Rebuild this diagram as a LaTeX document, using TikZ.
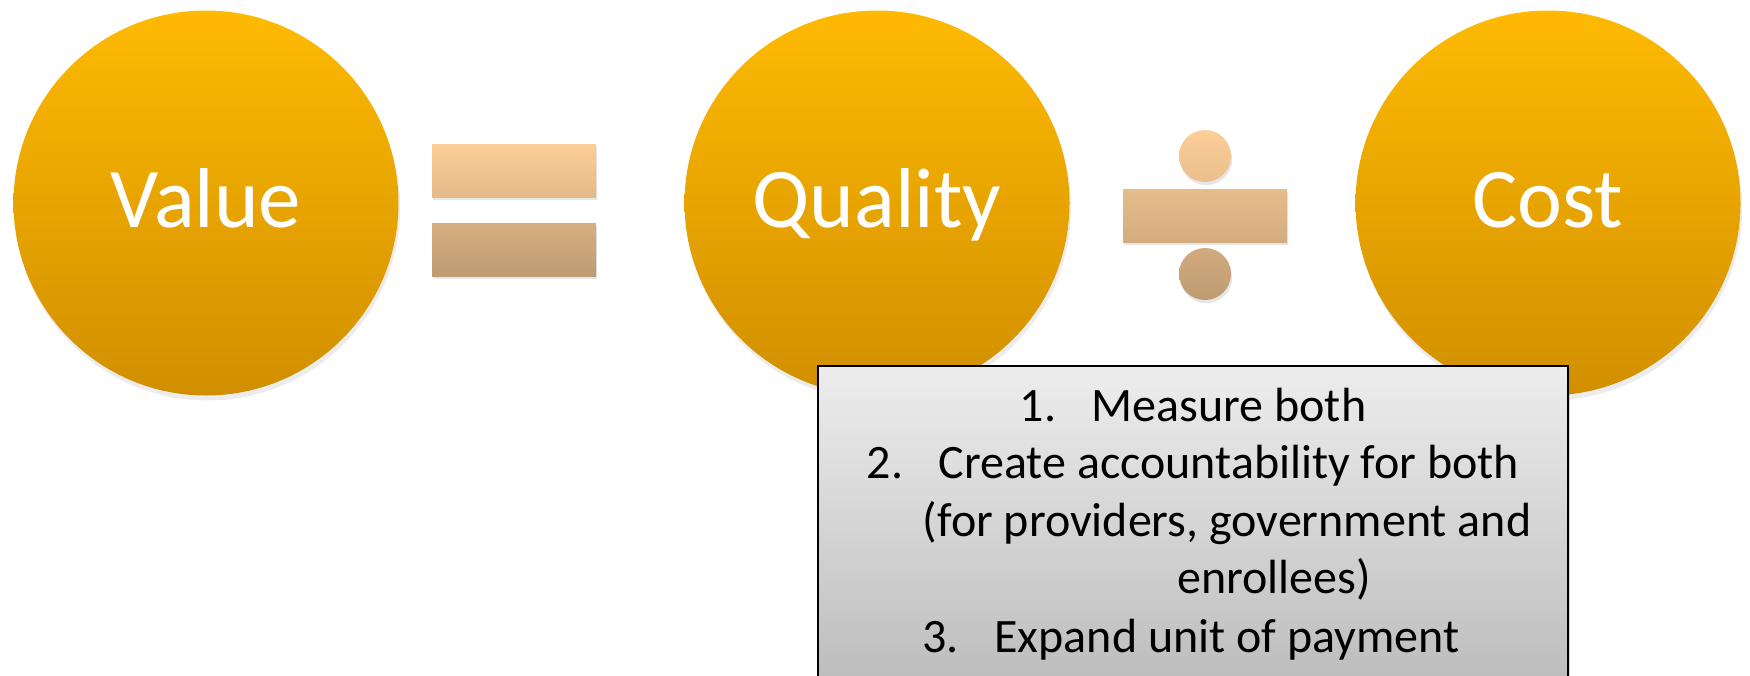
\documentclass[tikz,border=0pt]{standalone}
\usepackage{fontspec}
\setmainfont{Carlito}
\usetikzlibrary{shadows}
\definecolor{ballTop}{RGB}{254,186,2}
\definecolor{ballBot}{RGB}{209,143,0}
\definecolor{signTop}{RGB}{252,206,152}
\definecolor{signBot}{RGB}{190,155,114}
\definecolor{boxTop}{RGB}{237,237,237}
\definecolor{boxBot}{RGB}{186,186,186}
\tikzset{
	ball/.style={circle, minimum size=192.5pt, inner sep=0pt, top color=ballTop, bottom color=ballBot,
		text=white, font=\fontsize{42.5}{42.5}\selectfont, text height=24pt, text depth=0pt,
		drop shadow={opacity=0.15, shadow xshift=0.8pt, shadow yshift=-2.5pt}},
	sign/.style={draw=none, drop shadow={opacity=0.2, shadow xshift=0.6pt, shadow yshift=-1.6pt}},
	listline/.style={anchor=base, inner sep=0pt, font=\fontsize{24}{28}\selectfont},
}
\newcommand{\numtab}[1]{\makebox[36pt][l]{#1}}

\begin{document}
\begin{tikzpicture}[x=0.5pt, y=-0.5pt]
			%%%%% START %%%%%
			\useasboundingbox (0, 0) rectangle (1750, 675);
			
			\node[ball] (value) at (206, 203) {Value};
			\node[ball] (quality) at (877, 203) {Quality};
			\node[ball] (cost) at (1548, 203) {Cost};
			
			% equals
			\draw[sign, top color=signTop, bottom color=signBot!40!signTop] (432, 144) rectangle (596, 197);
			\draw[sign, top color=signBot!60!signTop, bottom color=signBot] (432, 223) rectangle (596, 276);
			
			% divide
			\draw[sign, top color=signTop, bottom color=signBot!30!signTop] (1205, 156) circle [radius=13pt];
			\draw[sign, top color=signBot!35!signTop, bottom color=signBot!66!signTop] (1123, 189) rectangle (1287, 242);
			\draw[sign, top color=signBot!69!signTop, bottom color=signBot] (1205, 274) circle [radius=13pt];
			
			% list box
			\draw[line width=1pt, top color=boxTop, bottom color=boxBot,
				drop shadow={opacity=0.3, shadow xshift=1pt, shadow yshift=-1pt}] (818, 366) rectangle (1568, 700);
			
			\node[listline] (item1) at (1193, 421) {\numtab{1.}Measure both};
			\node[listline] (item2) at (1193, 478) {\numtab{2.}Create accountability for both};
			\node[listline] (item2b) at (1227, 536) {(for providers, government and};
			\node[listline] (item2c) at (1274, 593) {enrollees)};
			\node[listline] (item3) at (1191, 652) {\numtab{3.}Expand unit of payment};
			
			%%%%% END %%%%%
\end{tikzpicture}
\end{document}
